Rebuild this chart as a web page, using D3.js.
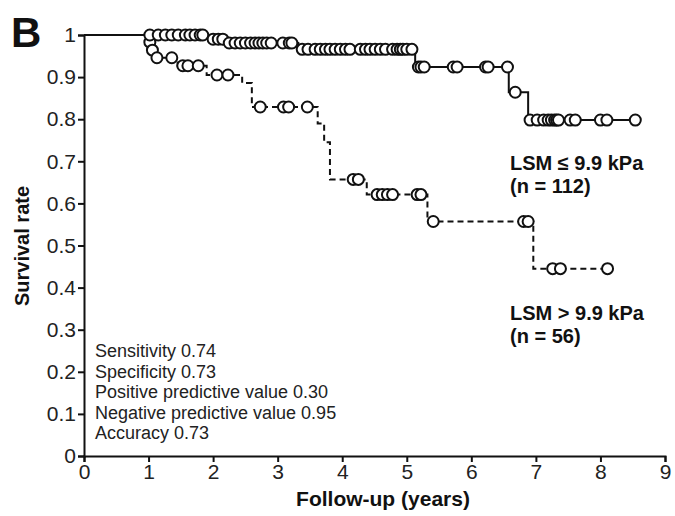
<!DOCTYPE html>
<html><head><meta charset="utf-8">
<script src="https://cdn.jsdelivr.net/npm/d3@7"></script>
<style>body{margin:0;background:#fff;} text{font-family:"Liberation Sans",Arial,Helvetica,sans-serif;}</style>
</head><body><svg id="c" width="675" height="516"></svg>
<script>
// Kaplan–Meier steps: [time, survival after event]
const lowSteps = [[0,1],[1.92,0.99],[2.2,0.981],[3.32,0.966],[5.13,0.924],[6.58,0.864],[6.88,0.798]];
const lowEnd = 8.54;
const lowCensored = [1.02,1.15,1.26,1.36,1.46,1.57,1.64,1.72,1.80,1.84,
  2.0,2.08,2.15,
  2.25,2.34,2.42,2.5,2.58,2.65,2.71,2.77,2.83,2.9,3.08,3.18,3.22,
  3.38,3.47,3.58,3.66,3.74,3.81,3.89,3.97,4.05,4.12,4.28,4.36,4.43,4.51,4.59,4.67,4.78,4.85,4.9,4.94,5.0,5.08,
  5.18,5.22,5.27,5.72,5.78,6.22,6.26,6.56,
  6.68,
  6.91,7.02,7.12,7.19,7.24,7.29,7.32,7.35,7.53,7.61,8.0,8.1,8.54];
const highSteps = [[0,1],[1.0,0.983],[1.04,0.964],[1.1,0.946],[1.45,0.927],[1.9,0.905],[2.45,0.886],[2.6,0.829],[3.62,0.79],[3.72,0.745],[3.81,0.657],[4.38,0.621],[5.32,0.557],[6.96,0.445]];
const highEnd = 8.11;
const highCensored = [1.02,1.06,1.13,1.36,1.53,1.61,1.77,2.06,2.23,2.73,3.09,3.17,3.46,4.17,4.25,4.54,4.62,4.70,4.78,5.16,5.22,5.41,6.81,6.88,7.26,7.38,8.11];
const xTicks = [0,1,2,3,4,5,6,7,8,9];
const yTicks = [0,0.1,0.2,0.3,0.4,0.5,0.6,0.7,0.8,0.9,1];
const statsLines = ["Sensitivity 0.74","Specificity 0.73","Positive predictive value 0.30","Negative predictive value 0.95","Accuracy 0.73"];
const groupLabels = [["LSM \u2264 9.9 kPa","(n = 112)"],["LSM > 9.9 kPa","(n = 56)"]];

const svg = d3.select("#c");
const x = d3.scaleLinear().domain([0,9]).range([84,665]);
const y = d3.scaleLinear().domain([0,1]).range([456,35]);

function survAt(steps,t){let s=1;for(const [tt,v] of steps){if(tt<=t+1e-9)s=v;}return s;}
const line = d3.line().x(d=>x(d[0])).y(d=>y(d[1])).curve(d3.curveStepAfter);

function drawCurve(steps,end,cens,dash){
  const pts = steps.concat([[end, steps[steps.length-1][1]]]);
  svg.append("path").attr("d",line(pts)).attr("fill","none").attr("stroke","#111")
    .attr("stroke-width",2).attr("stroke-dasharray",dash?"6,4":null);
  svg.append("g").selectAll("circle").data(cens).join("circle")
    .attr("cx",d=>x(d)).attr("cy",d=>y(survAt(steps,d))).attr("r",5.5)
    .attr("fill","#fff").attr("stroke","#111").attr("stroke-width",2);
}
drawCurve(highSteps,highEnd,highCensored,true);
drawCurve(lowSteps,lowEnd,lowCensored,false);

// axes
const ax = svg.append("g").attr("transform","translate(0,456)")
  .call(d3.axisBottom(x).tickValues(xTicks).tickSize(6).tickPadding(2).tickFormat(d3.format("d")));
const ay = svg.append("g").attr("transform","translate(84,0)")
  .call(d3.axisLeft(y).tickValues(yTicks).tickSize(6).tickPadding(2).tickFormat(d=>d===0||d===1?String(d):d3.format(".1f")(d)));
[ax,ay].forEach(g=>{
  g.select(".domain").attr("stroke","#111").attr("stroke-width",2);
  g.selectAll(".tick line").attr("stroke","#111").attr("stroke-width",2);
  g.selectAll(".tick text").attr("fill","#222").style("font-size","21px");
});

// titles
svg.append("text").attr("x",383).attr("y",506).attr("text-anchor","middle")
  .style("font-size","21px").style("font-weight","bold").attr("fill","#111").text("Follow-up (years)");
svg.append("text").attr("transform","translate(29,246) rotate(-90)").attr("text-anchor","middle")
  .style("font-size","20px").style("font-weight","bold").attr("fill","#111").text("Survival rate");
svg.append("text").attr("x",11).attr("y",47).style("font-size","42px").style("font-weight","bold")
  .attr("fill","#111").text("B");

// group labels
const gl = [[170,193],[320,343]];
groupLabels.forEach((lb,i)=>{
  lb.forEach((t,j)=>svg.append("text").attr("x",510).attr("y",gl[i][j]).style("font-size","20px")
    .style("font-weight","bold").attr("fill","#111").text(t));
});
// stats
svg.append("g").selectAll("text").data(statsLines).join("text")
  .attr("x",95).attr("y",(d,i)=>357+i*20.5).style("font-size","18px").attr("fill","#222").text(d=>d);
</script></body></html>
